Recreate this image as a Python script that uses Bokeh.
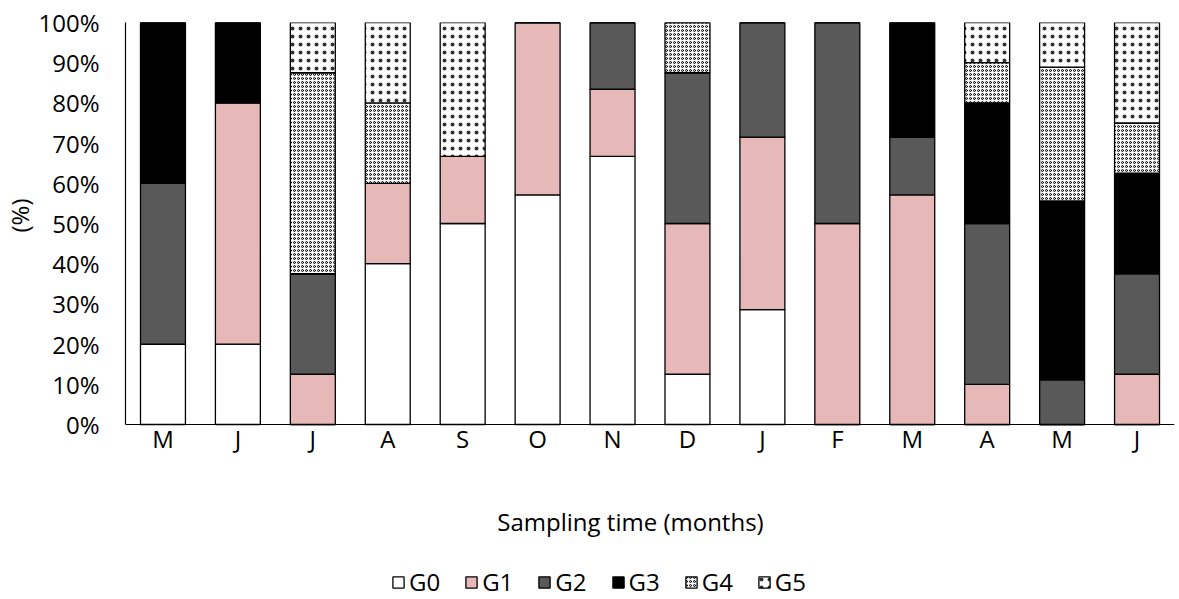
from bokeh.plotting import figure
from bokeh.models import (ColumnDataSource, Range1d, FixedTicker, PrintfTickFormatter,
                          Legend, LegendItem, Label, Title)
from bokeh.transform import stack
from bokeh.embed import file_html
from bokeh.resources import INLINE

months = ["M", "J", "J", "A", "S", "O", "N", "D", "J", "F", "M", "A", "M", "J"]
series = ["G0", "G1", "G2", "G3", "G4", "G5"]
G0 = [20, 20, 0, 40, 50, 57.1, 66.7, 12.5, 28.6, 0, 0, 0, 0, 0]
G1 = [0, 60, 12.5, 20, 16.7, 42.9, 16.7, 37.5, 42.9, 50, 57.1, 10, 0, 12.5]
G2 = [40, 0, 25, 0, 0, 0, 16.6, 37.5, 28.5, 50, 14.3, 40, 11.1, 25]
G3 = [40, 20, 0, 0, 0, 0, 0, 0, 0, 0, 28.6, 30, 44.5, 25]
G4 = [0, 0, 50, 20, 0, 0, 0, 12.5, 0, 0, 0, 10, 33.3, 12.5]
G5 = [0, 0, 12.5, 20, 33.3, 0, 0, 0, 0, 0, 0, 10, 11.1, 25]
y_ticks = [0, 10, 20, 30, 40, 50, 60, 70, 80, 90, 100]

FONT = "Open Sans"
FS = "24px"

W, H = 1179, 599
TOP, ZERO = 22, 424          # pixel rows of 100 % and 0 %
y_min = -(H - ZERO) * 100.0 / (ZERO - TOP)

xs = list(range(1, len(months) + 1))
source = ColumnDataSource(dict(x=xs, G0=G0, G1=G1, G2=G2, G3=G3, G4=G4, G5=G5))

p = figure(width=W, height=H, output_backend="svg", toolbar_location=None,
           x_range=Range1d(0.5, len(months) + 0.5), y_range=Range1d(y_min, 100),
           min_border_left=124, min_border_right=5, min_border_top=TOP, min_border_bottom=0)
p.outline_line_color = None
p.grid.visible = False
p.background_fill_color = "white"
p.border_fill_color = "white"

styles = {
    "G0": dict(fill_color="white", hatch_pattern=None),
    "G1": dict(fill_color="#E6B8B7", hatch_pattern=None),
    "G2": dict(fill_color="#595959", hatch_pattern=None),
    "G3": dict(fill_color="black", hatch_pattern=None),
    "G4": dict(fill_color="white", hatch_pattern="ring", hatch_scale=4, hatch_weight=1,
               hatch_color="black", hatch_alpha=1.0),
    "G5": dict(fill_color="white", hatch_pattern="dot", hatch_scale=8, hatch_weight=0.1,
               hatch_color="black", hatch_alpha=0.8),
}

items = []
for i, name in enumerate(series):
    r = p.vbar(x="x", width=0.6, bottom=stack(*series[:i]), top=stack(*series[:i + 1]),
               source=source, line_color="black", line_width=1.3, **styles[name])
    items.append(LegendItem(label=name, renderers=[r]))

# axes
p.xaxis.ticker = FixedTicker(ticks=xs)
p.xaxis.major_label_overrides = {x: m for x, m in zip(xs, months)}
p.xaxis.fixed_location = 0
p.yaxis.ticker = FixedTicker(ticks=y_ticks)
p.yaxis.formatter = PrintfTickFormatter(format="%d%%")
p.yaxis.bounds = (0, 100)
for ax in (p.xaxis[0], p.yaxis[0]):
    ax.major_tick_in = 0
    ax.major_tick_out = 0
    ax.minor_tick_in = 0
    ax.minor_tick_out = 0
    ax.axis_line_color = "black"
    ax.axis_line_width = 1.2
    ax.major_label_text_font = FONT
    ax.major_label_text_font_size = FS
    ax.major_label_text_color = "black"
p.xaxis.major_label_standoff = -3
p.yaxis.major_label_standoff = 26

ytitle = Title(text="(%)", align="right", offset=176, standoff=0,
               text_font=FONT, text_font_size=FS, text_color="black", text_font_style="normal")
p.add_layout(ytitle, "left")

xtitle = Label(x=505, y=78, x_units="screen", y_units="screen", text="Sampling time (months)",
               text_font=FONT, text_font_size=FS, text_color="black", text_align="center",
               text_baseline="middle")
p.add_layout(xtitle)

legend = Legend(items=items, orientation="horizontal", location=(266, 1),
                glyph_width=14, glyph_height=14, label_standoff=4, spacing=24,
                padding=0, margin=0, border_line_color=None, background_fill_alpha=0,
                label_text_font=FONT, label_text_font_size=FS, label_text_color="black")
p.add_layout(legend)

open("out.html", "w").write(file_html(p, INLINE))
